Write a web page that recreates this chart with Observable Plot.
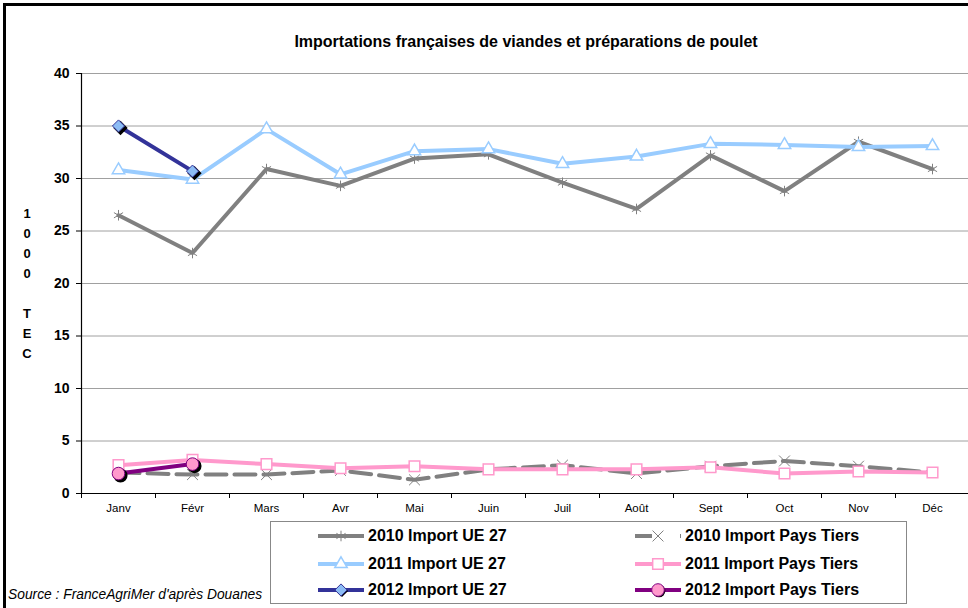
<!DOCTYPE html>
<html><head><meta charset="utf-8">
<script src="https://cdn.jsdelivr.net/npm/d3@7"></script>
<script src="https://cdn.jsdelivr.net/npm/@observablehq/plot@0.6"></script>
<style>
body{margin:0;background:#fff;font-family:"Liberation Sans",Arial,sans-serif;overflow:hidden}
#wrap{position:relative;width:968px;height:608px;overflow:hidden;background:#fff}
#border{position:absolute;left:3px;top:3px;width:990px;height:640px;border:3px solid #000;box-sizing:border-box}
#chart{position:absolute;left:0;top:0}
#title{position:absolute;left:0;width:1052px;top:33px;text-align:center;font-weight:bold;font-size:16px;color:#000}
#ytitle{position:absolute;left:20px;width:14px;top:204px;text-align:center;font-weight:bold;font-size:13px;line-height:20px;color:#000}
#legend{position:absolute;left:270px;top:521px;width:637px;height:83px;border:1px solid #888;box-sizing:border-box;background:#fff}
.item{position:absolute;display:flex;align-items:center;font-weight:bold;font-size:16px;color:#000;white-space:nowrap}
.item svg{display:block;margin-right:3px}
#source{position:absolute;left:8px;top:587px;font-style:italic;font-size:13.8px;color:#000;white-space:nowrap}
</style></head>
<body>
<div id="wrap">
<div id="chart"></div>
<div id="title">Importations françaises de viandes et préparations de poulet</div>
<div id="ytitle">1<br>0<br>0<br>0<br>&nbsp;<br>T<br>E<br>C</div>
<div id="legend"></div>
<div id="source">Source : FranceAgriMer d'après Douanes</div>
<div id="border"></div>
</div>
<script>
const months = ["Janv","Févr","Mars","Avr","Mai","Juin","Juil","Août","Sept","Oct","Nov","Déc"];
const yTicks = [0,5,10,15,20,25,30,35,40];
const ue2010 = [26.5,22.9,30.9,29.3,31.9,32.3,29.6,27.1,32.2,28.8,33.5,30.9];
const pt2010 = [2.0,1.8,1.8,2.2,1.3,2.3,2.7,1.9,2.6,3.1,2.6,2.0];
const ue2011 = [30.8,29.9,34.7,30.4,32.6,32.8,31.4,32.1,33.3,33.2,33.0,33.1];
const pt2011 = [2.7,3.2,2.8,2.4,2.6,2.3,2.3,2.3,2.5,1.9,2.1,2.0];
const ue2012 = [35.0,30.7];
const pt2012 = [1.9,2.8];
const seriesNames = ["2010 Import UE 27","2010 Import Pays Tiers","2011 Import UE 27","2011 Import Pays Tiers","2012 Import UE 27","2012 Import Pays Tiers"];

const rows = vals => vals.map((v,i)=>({month: months[i], value: v}));
const styles = [
  {vals: ue2010, stroke:"#808080", dash:null, symbol:"asterisk", mfill:"none", mstroke:"#808080", r:5, sw:1, shadow:false},
  {vals: pt2010, stroke:"#808080", dash:"21,8", symbol:"times", mfill:"none", mstroke:"#808080", r:5, sw:1, shadow:false},
  {vals: ue2011, stroke:"#99ccff", dash:null, symbol:"triangle", mfill:"white", mstroke:"#99ccff", r:4.6, sw:1.5, shadow:false},
  {vals: pt2011, stroke:"#ff99cc", dash:null, symbol:"square", mfill:"white", mstroke:"#ff99cc", r:6, sw:1.5, shadow:false},
  {vals: ue2012, stroke:"#333399", dash:null, symbol:"diamond2", mfill:"#8cbcf5", mstroke:"#333399", r:5.5, sw:1, shadow:true},
  {vals: pt2012, stroke:"#800080", dash:null, symbol:"circle", mfill:"#ff99cc", mstroke:"#800080", r:6.3, sw:1, shadow:true}
];

const marks = [
  Plot.gridY(yTicks, {stroke:"#a0a0a0", strokeOpacity:1, strokeWidth:1}),
  Plot.axisY(yTicks, {tickSize:5, tickPadding:7, fontSize:14, fontWeight:"bold", label:null, stroke:"#000"}),
  Plot.axisX(months, {tickSize:5, tickFormat:()=>"", dx:-37, label:null, stroke:"#000"}),
  Plot.axisX(months, {tickSize:0, tickPadding:10, fontSize:11.5, label:null}),
  Plot.ruleY([0], {stroke:"#000", strokeWidth:1.2}),
  Plot.ruleX([months[0]], {dx:-37, stroke:"#000", strokeWidth:1.2})
];
for (const s of styles) {
  const d = rows(s.vals);
  marks.push(Plot.line(d, {x:"month", y:"value", stroke:s.stroke, strokeWidth:4, strokeDasharray:s.dash, curve:"linear"}));
  if (s.shadow) marks.push(Plot.dot(d, {x:"month", y:"value", symbol:s.symbol, r:s.r, fill:"#000", stroke:"#000", dx:2, dy:2}));
  marks.push(Plot.dot(d, {x:"month", y:"value", symbol:s.symbol, r:s.r, fill:s.mfill, stroke:s.mstroke, strokeWidth:s.sw}));
}

const plot = Plot.plot({
  width: 968, height: 608,
  marginLeft: 81, marginRight: 0, marginTop: 73, marginBottom: 115,
  x: {type:"point", domain: months, range: [118, 932], padding: 0, label: null},
  y: {domain: [0,40], label: null},
  style: {fontFamily: "Liberation Sans, Arial, sans-serif", background: "transparent", color:"#000"},
  marks
});
document.getElementById("chart").appendChild(plot);

// legend
const leg = document.getElementById("legend");
const pos = [[46,14],[363,14],[46,42],[363,42],[46,68],[363,68]];
const symMap = {asterisk: d3.symbolAsterisk, times: d3.symbolTimes, triangle: d3.symbolTriangle, square: d3.symbolSquare, diamond2: d3.symbolDiamond2, circle: d3.symbolCircle};
styles.forEach((s,i)=>{
  const div = document.createElement("div");
  div.className = "item";
  div.style.left = pos[i][0] + "px";
  div.style.top = (pos[i][1] - 9) + "px";
  div.style.height = "18px";
  const svg = d3.create("svg").attr("width", 48).attr("height", 18);
  if (s.dash) {
    svg.append("line").attr("x1",1).attr("x2",18).attr("y1",9).attr("y2",9).attr("stroke",s.stroke).attr("stroke-width",4);
    svg.append("line").attr("x1",46).attr("x2",47).attr("y1",9).attr("y2",9).attr("stroke",s.stroke).attr("stroke-width",4);
  } else {
    svg.append("line").attr("x1",1).attr("x2",47).attr("y1",9).attr("y2",9).attr("stroke",s.stroke).attr("stroke-width",4);
  }
  const area = Math.PI * s.r * s.r;
  if (s.shadow) svg.append("path").attr("d", d3.symbol(symMap[s.symbol], area)()).attr("transform","translate(25,10)").attr("fill","#000");
  svg.append("path").attr("d", d3.symbol(symMap[s.symbol], area)()).attr("transform","translate(24,9)")
     .attr("fill", s.mfill).attr("stroke", s.mstroke).attr("stroke-width", s.sw);
  div.appendChild(svg.node());
  const t = document.createElement("span");
  t.textContent = seriesNames[i];
  div.appendChild(t);
  leg.appendChild(div);
});
</script>
</body></html>
